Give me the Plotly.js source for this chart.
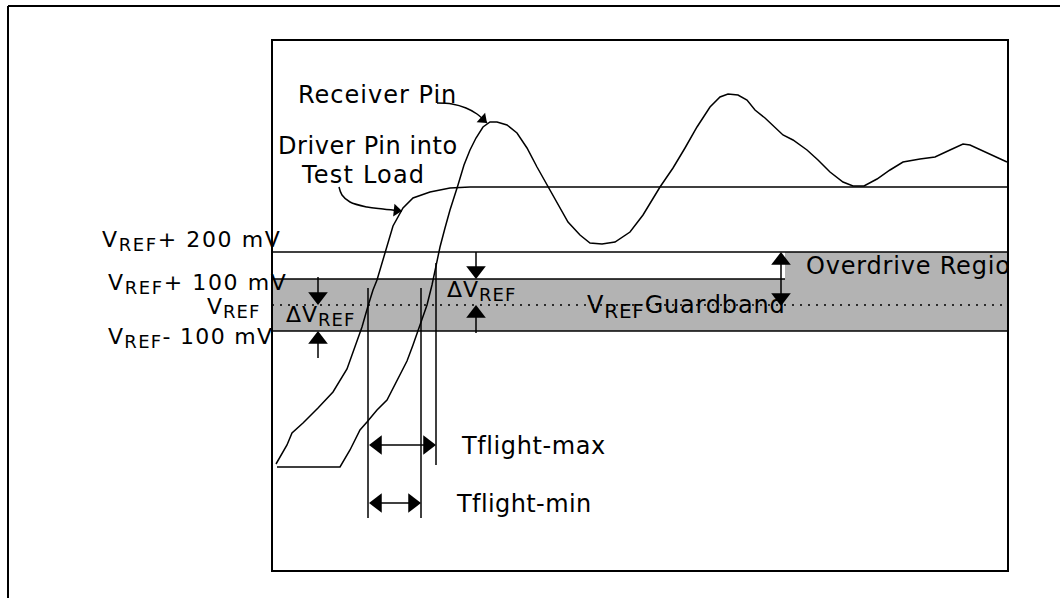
<!DOCTYPE html>
<html>
<head>
<meta charset="utf-8">
<script src="https://cdn.plot.ly/plotly-3.0.1.min.js"></script>
<style>html,body{margin:0;padding:0;background:#fff;}#chart{width:1060px;height:598px;}</style>
</head>
<body>
<div id="chart"></div>
<script>
// ---- schematic data (drawing units: x = time, y = voltage, sketch units) ----
const driverX = [276,287,292,303,318,333,347,356,362,368,373,377,385,393,403,413,430,450,470,1008];
const driverY = [464,445,433,423,408,392,369,345,327,306,290,280,253,226,208,198,192,188,187,187];

const receiverX = [277,340,350,360,367,377,387,397,407,413,418,423,427,432,436,440,445,450,458,464,470,476,483,490,497,503,507,517,527,537,548,557,568,580,590,602,615,630,643,660,673,685,697,710,720,728,738,747,755,765,775,783,793,807,818,830,843,853,864,877,890,903,920,935,950,963,970,987,1007];
const receiverY = [467,467,450,430,422,410,400,381,361,345,330,315,305,285,265,247,228,210,185,165,150,138,127,122,122,124,125,133,148,167,187,203,222,235,243,244,242,232,215,187,168,148,127,107,97,94,95,100,110,118,127,135,140,150,160,172,182,186,186,179,170,162,159,157,150,144,145,153,162];

// voltage levels: VREF+200mV, VREF+100mV, VREF, VREF-100mV
const levelY = [252, 279, 305, 331];
// plot frame
const boxX = [272, 1008];
const boxY = [40, 571];
const overdriveX = 785;
// Tflight markers
const tflightX = [368, 421, 436];
const tflightTop = [288, 288, 263];
const tflightBottom = [518, 518, 465];

// arrows: tip / tail
const arrowTipX  = [436, 421, 318, 318, 476, 476, 781];
const arrowTipY  = [445, 503, 305, 331, 279, 305, 306];
const arrowTailX = [369, 369, 318, 318, 476, 476, 781];
const arrowTailY = [445, 503, 277, 358, 252, 333, 252];
const arrowBoth  = [true, true, false, false, false, false, true];

// callout curves
const recvCalloutX = [437, 452, 466, 477, 487];
const recvCalloutY = [103, 104, 108, 114, 123];
const drvCalloutX = [339, 342, 350, 367, 383, 402];
const drvCalloutY = [187, 195, 202, 207, 209, 211];

// text labels
const labelRaw = ['Receiver Pin', 'Driver Pin into', 'Test Load',
  'V|REF|+ 200 mV', 'V|REF|+ 100 mV', 'V|REF|', 'V|REF|- 100 mV',
  '\u0394V|REF|', '\u0394V|REF|', 'V|REF|Guardband', 'Tflight-max', 'Tflight-min'];
const labelX = [298, 278, 302, 102, 108, 207, 108, 286, 447, 587, 462, 457];
const labelY = [97, 148, 177, 241, 284, 308, 338, 316, 291, 307, 448, 506];
const labelSize = [24, 24, 24, 22, 22, 22, 22, 22, 22, 24, 24, 24];
const labelSpacing = [1, 0.6, 1.2, 1.6, 1.6, 1, 1.3, 1, 1, 0.8, 0.6, 0.4];
const overdriveRaw = ['Overdrive Regio'];
const overdriveLabelX = [806];
const overdriveLabelY = [268];

// ---- build ----
const BLACK = '#000';
const GRAY = '#b3b3b3';
function fmt(raw, size, ls) {
  const parts = raw.split('|');
  let s = parts[0];
  if (parts.length > 1) {
    s += '<sub><span style="font-size:' + Math.round(size * 0.82) + 'px">' + parts[1] + '</span></sub>' + parts[2];
  }
  return '<span style="font-size:' + size + 'px;letter-spacing:' + ls + 'px">' + s + '</span>';
}
const labelText = labelRaw.map((t, i) => fmt(t, labelSize[i], labelSpacing[i]));
const overdriveText = overdriveRaw.map(t => fmt(t, 24, 0.8));

const shapes = [];
shapes.push({type:'line', xref:'x', yref:'y', x0:8, x1:1060, y0:6, y1:6, line:{color:BLACK, width:2}});
shapes.push({type:'line', xref:'x', yref:'y', x0:8, x1:8, y0:6, y1:598, line:{color:BLACK, width:2}});
shapes.push({type:'rect', xref:'x', yref:'y', layer:'below', x0:boxX[0], x1:boxX[1], y0:levelY[1], y1:levelY[3], fillcolor:GRAY, line:{width:0}});
shapes.push({type:'rect', xref:'x', yref:'y', layer:'below', x0:overdriveX, x1:boxX[1], y0:levelY[0], y1:levelY[1], fillcolor:GRAY, line:{width:0}});
shapes.push({type:'line', xref:'x', yref:'y', x0:boxX[0], x1:boxX[1], y0:levelY[0], y1:levelY[0], line:{color:BLACK, width:1.5}});
shapes.push({type:'line', xref:'x', yref:'y', x0:boxX[0], x1:overdriveX, y0:levelY[1], y1:levelY[1], line:{color:BLACK, width:1.5}});
shapes.push({type:'line', xref:'x', yref:'y', x0:boxX[0], x1:boxX[1], y0:levelY[2], y1:levelY[2], line:{color:BLACK, width:1.5, dash:'2px,6px'}});
shapes.push({type:'line', xref:'x', yref:'y', x0:boxX[0], x1:boxX[1], y0:levelY[3], y1:levelY[3], line:{color:BLACK, width:1.5}});
tflightX.forEach((x, i) => shapes.push({type:'line', xref:'x', yref:'y', x0:x, x1:x, y0:tflightTop[i], y1:tflightBottom[i], line:{color:BLACK, width:1.5}}));
shapes.push({type:'rect', xref:'x', yref:'y', x0:boxX[0], x1:boxX[1], y0:boxY[0], y1:boxY[1], line:{color:BLACK, width:2}});

// arrowheads as rotated triangle markers (tip placed on the target point)
const headX = [], headY = [], headAngle = [], headSize = [];
const shaftTraces = [];
function head(tx, ty, fx, fy, size) {
  const dx = tx - fx, dy = ty - fy, L = Math.hypot(dx, dy) || 1;
  const ux = dx / L, uy = dy / L, back = size / 2;
  headX.push(tx - ux * back); headY.push(ty - uy * back);
  headAngle.push(Math.atan2(dx, -dy) * 180 / Math.PI); headSize.push(size);
  return [tx - ux * back, ty - uy * back];
}
arrowTipX.forEach((tx, i) => {
  const ty = arrowTipY[i], fx = arrowTailX[i], fy = arrowTailY[i];
  const e = head(tx, ty, fx, fy, 17);
  let s = [fx, fy];
  if (arrowBoth[i]) s = head(fx, fy, tx, ty, 17);
  shaftTraces.push({x:[s[0], e[0]], y:[s[1], e[1]], mode:'lines', line:{color:BLACK, width:1.5}, hoverinfo:'skip'});
});
function calloutHead(xs, ys) {
  const n = xs.length;
  head(xs[n-1], ys[n-1], xs[n-2], ys[n-2], 11);
}
calloutHead(recvCalloutX, recvCalloutY);
calloutHead(drvCalloutX, drvCalloutY);

const FONT = 'DejaVu Sans';
const traces = [
  {x:driverX, y:driverY, mode:'lines', line:{color:BLACK, width:1.5}, hoverinfo:'skip'},
  {x:receiverX, y:receiverY, mode:'lines', line:{color:BLACK, width:1.5}, hoverinfo:'skip'},
  {x:recvCalloutX, y:recvCalloutY, mode:'lines', line:{color:BLACK, width:1.5, shape:'spline'}, hoverinfo:'skip'},
  {x:drvCalloutX, y:drvCalloutY, mode:'lines', line:{color:BLACK, width:1.5, shape:'spline'}, hoverinfo:'skip'},
  ...shaftTraces,
  {x:headX, y:headY, mode:'markers', marker:{symbol:'triangle-up', size:headSize, angle:headAngle, color:BLACK, opacity:1, line:{width:0}}, hoverinfo:'skip'},
  {x:labelX, y:labelY, text:labelText, mode:'text', textposition:'middle right', cliponaxis:false,
   textfont:{family:FONT, size:labelSize, color:BLACK}, hoverinfo:'skip'},
  {x:overdriveLabelX, y:overdriveLabelY, text:overdriveText, mode:'text', textposition:'middle right', cliponaxis:true,
   xaxis:'x2', yaxis:'y2', textfont:{family:FONT, size:24, color:BLACK}, hoverinfo:'skip'}
];

const layout = {
  width:1060, height:598, margin:{l:0, r:0, t:0, b:0, pad:0},
  paper_bgcolor:'#fff', plot_bgcolor:'rgba(0,0,0,0)', showlegend:false,
  xaxis:{range:[0,1060], visible:false, fixedrange:true},
  yaxis:{range:[598,0], visible:false, fixedrange:true},
  xaxis2:{range:[boxX[0], boxX[1]], domain:[boxX[0]/1060, boxX[1]/1060], anchor:'y2', visible:false, fixedrange:true},
  yaxis2:{range:[boxY[1], boxY[0]], domain:[(598-boxY[1])/598, (598-boxY[0])/598], anchor:'x2', visible:false, fixedrange:true},
  shapes:shapes
};
Plotly.newPlot('chart', traces, layout, {staticPlot:true, displayModeBar:false});
</script>
</body>
</html>
